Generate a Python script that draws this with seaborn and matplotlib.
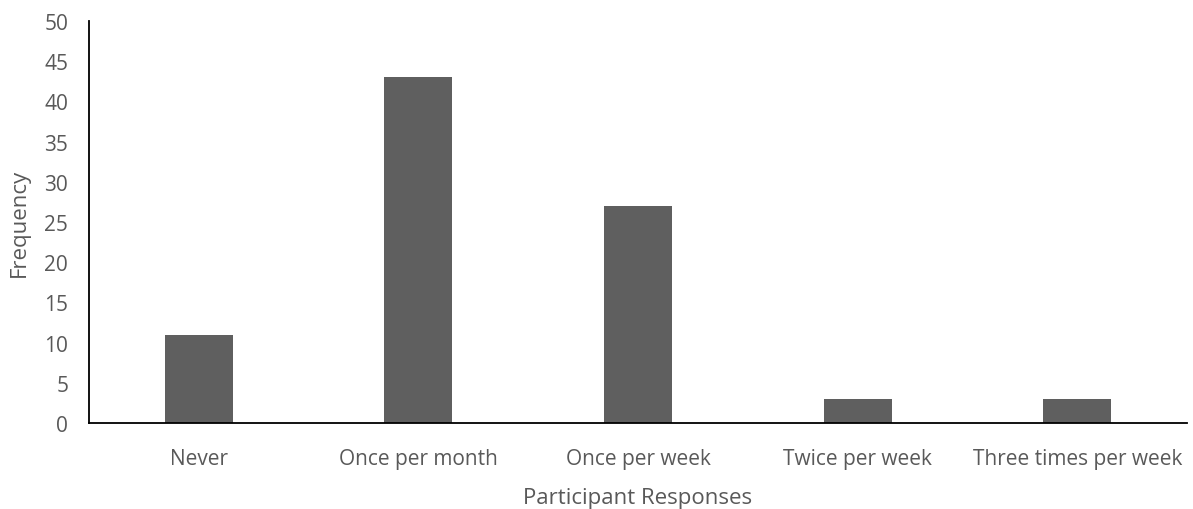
import matplotlib
matplotlib.use("Agg")
import matplotlib.pyplot as plt
import seaborn as sns
import pandas as pd

categories = ["Never", "Once per month", "Once per week", "Twice per week", "Three times per week"]
frequencies = [11, 43, 27, 3, 3]
y_ticks = [0, 5, 10, 15, 20, 25, 30, 35, 40, 45, 50]

sns.set_theme(style="white")
plt.rcParams['font.family'] = ['Open Sans', 'DejaVu Sans']

df = pd.DataFrame({"Response": categories, "Frequency": frequencies})

fig = plt.figure(figsize=(11.93, 5.10), dpi=100)
ax = fig.add_axes([89/1193, 1-424/510, (1187-89)/1193, (424-22)/510])
sns.barplot(data=df, x="Response", y="Frequency", color="#5f5f5f", width=0.31,
            saturation=1, linewidth=0, ax=ax)
ax.set_ylim(0, 50)
ax.set_xlim(-0.5, 4.5)
ax.set_yticks(y_ticks)
text_color = "#595959"
ax.tick_params(axis="both", length=0, labelsize=15, colors=text_color)
ax.tick_params(axis="y", pad=15)
ax.tick_params(axis="x", pad=18)
ax.set_xlabel("Participant Responses", fontsize=16, color=text_color, labelpad=13)
ax.set_ylabel("Frequency", fontsize=16, color=text_color, labelpad=10)
for s in ["top", "right"]:
    ax.spines[s].set_visible(False)
for s in ["left", "bottom"]:
    ax.spines[s].set_color("black")
    ax.spines[s].set_linewidth(1.3)
fig.savefig("out.png", dpi=100)
